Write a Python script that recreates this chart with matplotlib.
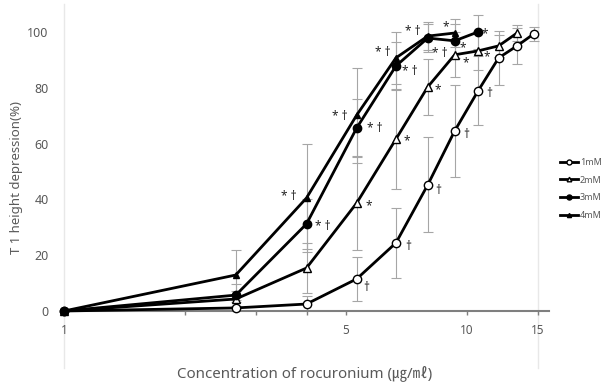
import matplotlib
matplotlib.use('Agg')
import matplotlib.pyplot as plt
from matplotlib.ticker import NullLocator

plt.rcParams['font.family'] = ['Noto Sans', 'Noto Sans CJK KR', 'DejaVu Sans']

# cumulative doses (ug/ml)
doses = [1, 2.67, 4, 5.33, 6.67, 8, 9.33, 10.67, 12, 13.33, 14.67]

series = ['1mM', '2mM', '3mM', '4mM']
mean_1mM = [0, 1.1, 2.5, 11.5, 24.4, 45.2, 64.5, 78.9, 90.7, 95.0, 99.3]
sd_1mM = [0, 2, 3, 8, 12.5, 17, 16.5, 12.3, 9.7, 6.5, 2.5]
mean_2mM = [0, 4.3, 15.4, 38.7, 61.6, 80.3, 91.8, 93.2, 95.0, 99.6]
sd_2mM = [0, 3, 9, 17, 18, 10, 8, 7, 4, 3]
mean_3mM = [0, 5.7, 31.2, 65.6, 87.8, 97.8, 96.8, 100.0]
sd_3mM = [0, 4, 9, 10.5, 8.6, 5, 6, 6]
mean_4mM = [0, 12.9, 40.5, 70.2, 90.7, 98.5, 99.6]
sd_4mM = [0, 9, 19.5, 17, 9.3, 5, 5]

means = {'1mM': mean_1mM, '2mM': mean_2mM, '3mM': mean_3mM, '4mM': mean_4mM}
sds = {'1mM': sd_1mM, '2mM': sd_2mM, '3mM': sd_3mM, '4mM': sd_4mM}

# significance marks: (series, dose index, text)
notes = [('4mM', 2, '* †'), ('3mM', 2, '* †'),
         ('4mM', 3, '* †'), ('3mM', 3, '* †'), ('2mM', 3, '*'), ('1mM', 3, '†'),
         ('4mM', 4, '* †'), ('3mM', 4, '* †'), ('2mM', 4, '*'), ('1mM', 4, '†'),
         ('4mM', 5, '* †'), ('3mM', 5, '* †'), ('2mM', 5, '*'), ('1mM', 5, '†'),
         ('4mM', 6, '*'), ('3mM', 6, '*'), ('2mM', 6, '*'), ('1mM', 6, '†'),
         ('3mM', 7, '*'), ('2mM', 7, '*'), ('1mM', 7, '†')]
# label offsets in pixels from the point
note_offsets = [(-18, 1), (16, -3),
                (-17, -1), (18, -1), (12, -3), (10, -9),
                (-13, 5), (14, -6), (11, -2), (12, -4),
                (-15, 5), (12, -15), (10, -3), (10, -6),
                (-9, 6), (8, -7), (11, -8), (12, -4),
                (7, -2), (9, -6), (11, -3)]

marker_style = {'1mM': ('o', 'white', 6.0),
                '2mM': ('^', 'white', 5.5),
                '3mM': ('o', 'black', 6.0),
                '4mM': ('^', 'black', 5.0)}

grey = '#595959'
fig = plt.figure(figsize=(6.1, 3.88), dpi=100)
ax = fig.add_axes([64/610, 77/388, 485/610, 307/388])

for s in series:
    x = doses[:len(means[s])]
    ax.errorbar(x, means[s], yerr=sds[s], fmt='none', ecolor='#a6a6a6',
                elinewidth=0.8, capsize=3.5, capthick=0.8, zorder=1)
for s in series:
    x = doses[:len(means[s])]
    m, fc, ms = marker_style[s]
    ax.plot(x, means[s], color='black', lw=2.0, marker=m, ms=ms, mfc=fc,
            mec='black', mew=1.0, zorder=3, clip_on=False, label=s)

for (s, i, txt), (dx, dy) in zip(notes, note_offsets):
    ax.annotate(txt, (doses[i], means[s][i]), xytext=(dx, dy),
                textcoords='offset pixels', ha='center', va='center',
                fontsize=8.5, color='#222222', zorder=4)

ax.set_xscale('log')
ax.set_xlim(1, 16)
ax.set_ylim(0, 110)
ax.set_xticks([1, 2, 3, 4, 5, 10, 15])
ax.set_xticklabels(['1', '', '', '', '5', '10', '15'])
ax.xaxis.set_minor_locator(NullLocator())
ax.set_yticks([0, 20, 40, 60, 80, 100])

for sp in ['top', 'right', 'left']:
    ax.spines[sp].set_visible(False)
ax.spines['bottom'].set_color('#7f7f7f')
ax.spines['bottom'].set_linewidth(1.5)
ax.tick_params(axis='y', length=0, pad=11, labelcolor=grey, labelsize=9)
ax.tick_params(axis='x', length=3, width=1, color='#7f7f7f', pad=6,
               labelcolor=grey, labelsize=8.5)

# faint panel lines
for xv in [1, 15]:
    ax.axvline(xv, ymin=-0.185, ymax=1.0, color='#e8e8e8', lw=1,
               clip_on=False, zorder=0)

ax.set_ylabel('T 1 height depression(%)', fontsize=9.5, color=grey)
ax.yaxis.set_label_coords(-0.085, 0.436)
ax.set_xlabel('Concentration of rocuronium (㎍/㎖)', fontsize=10.8, color=grey)
ax.xaxis.set_label_coords(0.497, -0.175)

ax.legend(loc='upper left', bbox_to_anchor=(560/610, 230/388),
          bbox_transform=fig.transFigure, frameon=False, fontsize=6.5,
          handlelength=2.0, handletextpad=0.2, labelspacing=0.95,
          borderpad=0, borderaxespad=0, markerscale=0.6, labelcolor=grey)

fig.savefig('out.png', dpi=100, facecolor='white')
